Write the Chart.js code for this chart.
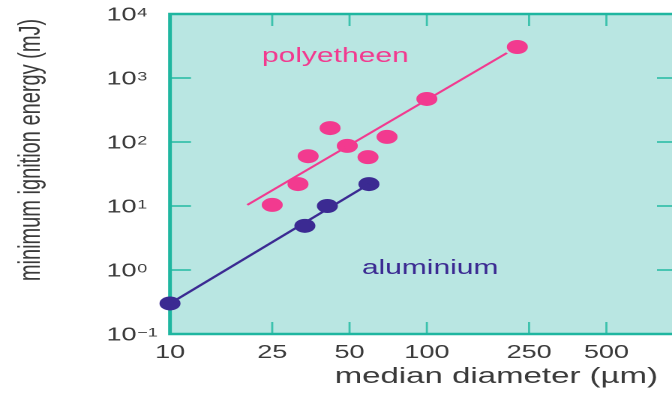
<!DOCTYPE html>
<html>
<head>
<meta charset="utf-8">
<script src="https://cdn.jsdelivr.net/npm/chart.js@4/dist/chart.umd.min.js"></script>
<style>
  html, body { margin: 0; padding: 0; background: #ffffff; overflow: hidden; width: 672px; height: 394px; }
  #wrap { width: 460px; height: 394px; transform: scaleX(1.5); transform-origin: 0 0; }
</style>
</head>
<body>
<div id="wrap"><canvas id="c" width="460" height="394"></canvas></div>
<script>
// Minimum ignition energy versus median particle diameter
const peDiameter = [25, 31.5, 34.5, 42, 49, 59, 70, 100, 225];
const peEnergy   = [10.4, 22, 60, 165, 87, 58, 120, 470, 3050];
const alDiameter = [10, 33.5, 41, 59.5];
const alEnergy   = [0.3, 4.9, 10, 22];

// trend lines
const peFitDiameter = [20, 205];
const peFitEnergy   = [10.4, 2460];
const alFitDiameter = [10, 59.5];
const alFitEnergy   = [0.3, 22];

// axis ticks
const xTickValues = [10, 25, 50, 100, 250, 500];
const yTickExponents = [-1, 0, 1, 2, 3, 4];

const seriesNames = ['polyetheen', 'aluminium'];
const xTitle = 'median diameter (\u00b5m)';
const yTitle = 'minimum ignition energy (mJ)';

const PINK = '#f23a8f';
const PURPLE = '#3b2a92';
const BG = '#b9e6e2';
const AXIS = '#1fb6a0';
const TICK = '#3cc2ad';
const TEXT = '#3a3a3a';
const FONT = '"Liberation Sans", Arial, Helvetica, sans-serif';

const toPoints = (xs, ys) => xs.map((v, i) => ({ x: v, y: ys[i] }));

function line(ctx, x1, y1, x2, y2) {
  ctx.beginPath(); ctx.moveTo(x1, y1); ctx.lineTo(x2, y2); ctx.stroke();
}

const framePlugin = {
  id: 'frame',
  beforeDatasetsDraw(chart) {
    const { ctx, chartArea: a, scales: { x, y } } = chart;
    ctx.save();
    ctx.fillStyle = BG;
    ctx.fillRect(a.left, a.top, a.right - a.left, a.bottom - a.top);

    ctx.strokeStyle = TICK;
    ctx.lineWidth = 1.4;
    xTickValues.forEach(v => {
      if (v === x.min) return;
      const px = x.getPixelForValue(v);
      line(ctx, px, a.bottom, px, a.bottom - 12);
      line(ctx, px, a.top, px, a.top + 12);
    });
    ctx.lineWidth = 1.8;
    yTickExponents.forEach(e => {
      const v = Math.pow(10, e);
      if (v <= y.min || v >= y.max) return;
      const py = y.getPixelForValue(v);
      line(ctx, a.left, py, a.left + 14, py);
      line(ctx, a.right, py, a.right - 14, py);
    });

    ctx.strokeStyle = AXIS;
    ctx.lineWidth = 2.5;
    ctx.strokeRect(a.left, a.top, a.right - a.left, a.bottom - a.top);
    ctx.restore();
  },
  afterDraw(chart) {
    const { ctx, scales: { x, y } } = chart;
    ctx.save();
    ctx.fillStyle = TEXT;

    // x tick labels
    ctx.font = '18px ' + FONT;
    ctx.textAlign = 'center';
    ctx.textBaseline = 'alphabetic';
    xTickValues.forEach(v => {
      ctx.fillText(String(v), x.getPixelForValue(v), 358);
    });

    // y tick labels: 10 with a raised exponent
    yTickExponents.forEach(e => {
      const py = y.getPixelForValue(Math.pow(10, e));
      ctx.textAlign = 'left';
      ctx.font = '18px ' + FONT;
      const base = '10';
      const left = 71;
      ctx.fillText(base, left, py + 6.5);
      const w = ctx.measureText(base).width;
      ctx.font = '12px ' + FONT;
      ctx.fillText(e < 0 ? '\u2212' + Math.abs(e) : String(e), left + w + 0.5, py + 2.3);
    });

    // axis titles
    ctx.font = '22px ' + FONT;
    ctx.textAlign = 'right';
    ctx.fillText(xTitle, 438.7, 383);

    ctx.save();
    ctx.font = '20px ' + FONT;
    ctx.translate(26.7, 150);
    ctx.rotate(-Math.PI / 2);
    ctx.textAlign = 'center';
    ctx.fillText(yTitle, 0, 0);
    ctx.restore();

    // series labels
    ctx.font = '20px ' + FONT;
    ctx.textAlign = 'center';
    ctx.fillStyle = PINK;
    ctx.fillText(seriesNames[0], x.getPixelForValue(44), y.getPixelForValue(1780));
    ctx.fillStyle = PURPLE;
    ctx.fillText(seriesNames[1], x.getPixelForValue(103), y.getPixelForValue(0.87));
    ctx.restore();
  }
};

new Chart(document.getElementById('c'), {
  type: 'scatter',
  data: {
    datasets: [
      {
        data: toPoints(alFitDiameter, alFitEnergy),
        showLine: true, borderColor: PURPLE, borderWidth: 2,
        pointRadius: 0, clip: false
      },
      {
        data: toPoints(peFitDiameter, peFitEnergy),
        showLine: true, borderColor: PINK, borderWidth: 1.8,
        pointRadius: 0, clip: false
      },
      {
        label: seriesNames[1],
        data: toPoints(alDiameter, alEnergy),
        backgroundColor: PURPLE, borderWidth: 0,
        pointRadius: 7, clip: false
      },
      {
        label: seriesNames[0],
        data: toPoints(peDiameter, peEnergy),
        backgroundColor: PINK, borderWidth: 0,
        pointRadius: 7, clip: false
      }
    ]
  },
  options: {
    responsive: false,
    devicePixelRatio: 2,
    animation: false,
    events: [],
    layout: { padding: { left: 113.33, right: 8, top: 14, bottom: 60 } },
    plugins: { legend: { display: false }, tooltip: { enabled: false } },
    scales: {
      x: { type: 'logarithmic', min: 10, max: 950, display: false },
      y: { type: 'logarithmic', min: 0.1, max: 10000, display: false }
    }
  },
  plugins: [framePlugin]
});
</script>
</body>
</html>
